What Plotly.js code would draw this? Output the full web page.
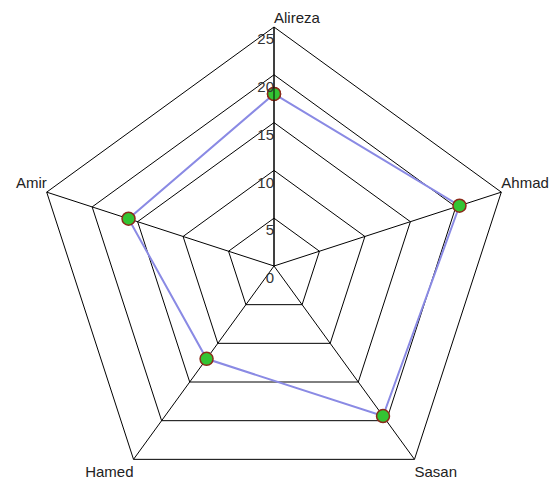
<!DOCTYPE html>
<html><head><meta charset="utf-8">
<script src="https://cdn.plot.ly/plotly-3.0.1.min.js"></script>
<style>html,body{margin:0;padding:0;overflow:hidden;background:#fff;}#chart{width:555px;height:540px;}</style>
</head><body><div id="chart"></div>
<script>
const categories = ["Alireza", "Ahmad", "Sasan", "Hamed", "Amir"];
const values = [18, 20.4, 19.4, 12, 16];
const radialTicks = [0, 5, 10, 15, 20, 25];
const labelPositions = ['top right', 'top right', 'bottom right', 'bottom left', 'top left'];

const W = 555, H = 540, cx = 274, cy = 266, R = 239;
const rMax = 25;
const FONT = 'Liberation Sans, Arial, sans-serif';
const FS = 15;
const span = t => '<span style="font-size:' + FS + 'px">' + t + '</span>';

const series = {
  type: 'scatterpolar',
  r: values.concat([values[0]]),
  theta: categories.concat([categories[0]]),
  mode: 'lines+markers',
  line: {color: '#8a8ae4', width: 2},
  marker: {size: 13, color: '#33c433', line: {color: '#8b2a1a', width: 1.5}},
  hoverinfo: 'skip'
};
const catLabels = {
  type: 'scatterpolar',
  r: categories.map(() => rMax),
  theta: categories,
  mode: 'text',
  text: categories.map(span),
  textposition: labelPositions,
  textfont: {family: FONT, size: labelPositions.map(p => p.indexOf('bottom') === 0 ? 24 : 17), color: '#222'},
  cliponaxis: false,
  hoverinfo: 'skip'
};
// the tick label at the centre is nudged a hair off r = 0 so Plotly keeps it
const tickLabels = {
  type: 'scatterpolar',
  r: radialTicks.map(v => Math.max(v, 0.02)),
  theta: radialTicks.map(() => categories[0]),
  mode: 'text',
  text: radialTicks.map(v => span(String(v))),
  textposition: 'bottom left',
  textfont: {family: FONT, size: 23, color: '#333'},
  cliponaxis: false,
  hoverinfo: 'skip'
};
const layout = {
  width: W, height: H,
  margin: {l: 0, r: 0, t: 0, b: 0},
  paper_bgcolor: '#fff',
  showlegend: false,
  font: {family: FONT, size: FS, color: '#222'},
  polar: {
    domain: {x: [(cx - R) / W, (cx + R) / W], y: [(H - cy - R) / H, (H - cy + R) / H]},
    bgcolor: '#fff',
    gridshape: 'linear',
    angularaxis: {
      rotation: 90, direction: 'clockwise',
      categoryarray: categories, categoryorder: 'array',
      showline: true, linecolor: '#000', linewidth: 1,
      showgrid: true, gridcolor: '#000', gridwidth: 1,
      ticks: '', showticklabels: false
    },
    radialaxis: {
      range: [0, rMax], tickvals: radialTicks,
      angle: 90,
      showline: true, linecolor: '#000', linewidth: 1,
      showgrid: true, gridcolor: '#000', gridwidth: 1,
      ticks: '', showticklabels: false
    }
  }
};
Plotly.newPlot('chart', [series, catLabels, tickLabels], layout, {displayModeBar: false, staticPlot: true});
</script></body></html>
